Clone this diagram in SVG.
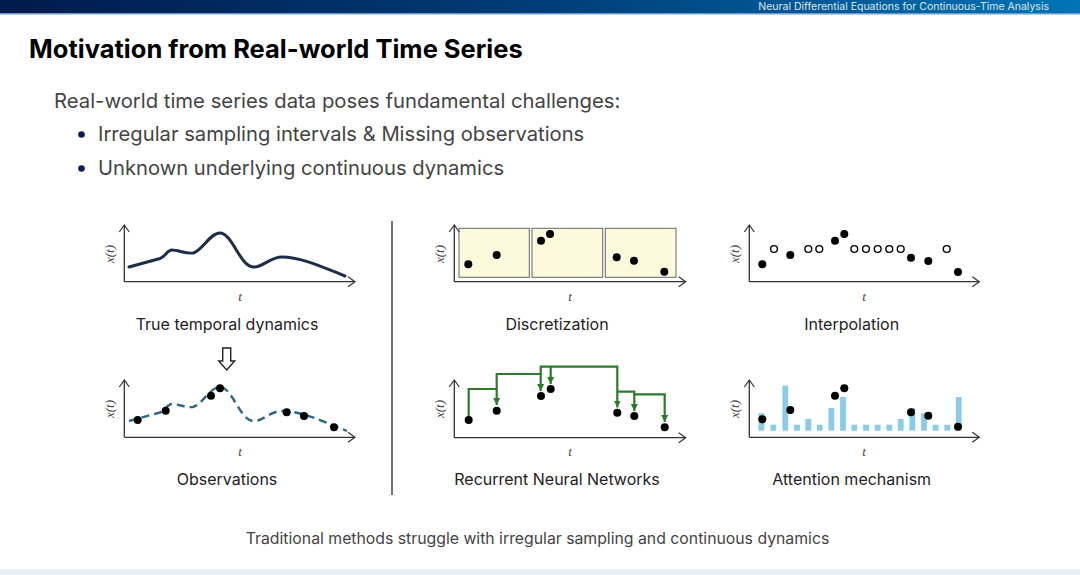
<svg xmlns="http://www.w3.org/2000/svg" width="1080" height="575" viewBox="0 0 1080 575">
<defs>
<linearGradient id="hdr" x1="0" y1="0" x2="1" y2="0">
<stop offset="0" stop-color="#001a4c"/>
<stop offset="0.5" stop-color="#003d78"/>
<stop offset="1" stop-color="#0074b6"/>
</linearGradient>
<marker id="ax" markerUnits="userSpaceOnUse" markerWidth="10" markerHeight="12" refX="8" refY="6" orient="auto">
<path d="M1,1 L8,6 L1,11" fill="none" stroke="#333" stroke-width="1.2"/>
</marker>
<marker id="ga" markerUnits="userSpaceOnUse" markerWidth="8" markerHeight="8" refX="7" refY="4" orient="auto">
<path d="M0,0.5 L7,4 L0,7.5 z" fill="#2d7a2d"/>
</marker>
</defs>
<style>
text{font-family:Inter,"Liberation Sans",sans-serif}
.axis{stroke:#333;stroke-width:1.3;fill:none}
.lab{font-size:16px;fill:#222;text-anchor:middle}
.xt{font-family:"Liberation Serif",serif;font-style:italic;font-size:13px;fill:#444;text-anchor:middle}
.dot{fill:#000}
.open{fill:#fff;stroke:#000;stroke-width:1.4}
.bar{fill:#89ccea}
.box{fill:#fcf9dc;stroke:#666;stroke-width:1}
.g{stroke:#2d7a2d;stroke-width:2.2;fill:none}
</style>

<g id="header">
<rect x="0" y="0" width="1080" height="14" fill="url(#hdr)"/>
<rect x="0" y="13" width="1080" height="1.5" fill="#6d9dc9"/>
<text x="1049" y="10" font-size="10.5" fill="#dfe8f2" text-anchor="end">Neural Differential Equations for Continuous-Time Analysis</text>
</g>
<rect id="footer" x="0" y="569" width="1080" height="6" fill="#e3eef6"/>

<g id="title">
<text x="29" y="58" font-size="25.5" font-weight="700" fill="#000">Motivation from Real-world Time Series</text>
<text x="54" y="108" font-size="20.3" fill="#444">Real-world time series data poses fundamental challenges:</text>
<circle cx="81.5" cy="134.5" r="3.3" fill="#0b1f5c"/>
<text x="98" y="141" font-size="20.2" fill="#444">Irregular sampling intervals &amp; Missing observations</text>
<circle cx="81.5" cy="168.5" r="3.3" fill="#0b1f5c"/>
<text x="98" y="175" font-size="20.2" fill="#444">Unknown underlying continuous dynamics</text>
</g>

<line id="divider" x1="392" y1="221" x2="392" y2="495" stroke="#444" stroke-width="1.5"/>

<g id="true-dynamics">
<path class="axis" d="M124.3,281.7 V225" marker-end="url(#ax)"/>
<path class="axis" d="M124.3,281.7 H355" marker-end="url(#ax)"/>
<text class="xt" transform="translate(114,254) rotate(-90)">x(t)</text>
<text class="xt" x="240" y="301">t</text>
<path d="M129,267 L160,258.5 C165,257 167,250 172,250 C178,250 186,254 193,253 C202,251 210,233 220,233 C232,233 240,266 253,267 C262,268 270,257 282,257 C300,257 320,266 345,276" fill="none" stroke="#1b2d48" stroke-width="3" stroke-linecap="round"/>
<text class="lab" x="227" y="330">True temporal dynamics</text>
</g>

<g id="arrow-down">
<path d="M222.7,348 H230.7 V361 H234.7 L226.7,370 L218.7,361 H222.7 Z" fill="#fff" stroke="#222" stroke-width="1.4"/>
</g>

<g id="observations">
<path class="axis" d="M124.3,437.3 V380" marker-end="url(#ax)"/>
<path class="axis" d="M124.3,437.3 H355" marker-end="url(#ax)"/>
<text class="xt" transform="translate(114,409) rotate(-90)">x(t)</text>
<text class="xt" x="240" y="456">t</text>
<path d="M129,421 L160,412.5 C165,411 167,404 172,404 C178,404 186,408 193,407 C202,405 210,387 220,387 C232,387 240,420 253,421 C262,422 270,411 282,411 C300,411 320,420 347,431" fill="none" stroke="#2a6888" stroke-width="2.4" stroke-dasharray="8,5"/>
<circle class="dot" cx="137.7" cy="420" r="4"/>
<circle class="dot" cx="165.7" cy="410.7" r="4"/>
<circle class="dot" cx="211" cy="395.7" r="4"/>
<circle class="dot" cx="220" cy="388.3" r="4"/>
<circle class="dot" cx="286.7" cy="412.3" r="4"/>
<circle class="dot" cx="304" cy="416" r="4"/>
<circle class="dot" cx="334" cy="427.3" r="4"/>
<text class="lab" x="227" y="485">Observations</text>
</g>

<g id="discretization">
<rect class="box" x="459" y="228.3" width="70.3" height="49"/>
<rect class="box" x="532" y="228.3" width="70.7" height="49"/>
<rect class="box" x="605.3" y="228.3" width="70.7" height="49"/>
<path class="axis" d="M454.3,281.7 V225" marker-end="url(#ax)"/>
<path class="axis" d="M454.3,281.7 H685.7" marker-end="url(#ax)"/>
<text class="xt" transform="translate(444,254) rotate(-90)">x(t)</text>
<text class="xt" x="570" y="301">t</text>
<circle class="dot" cx="468.3" cy="264.3" r="4"/>
<circle class="dot" cx="496.7" cy="255" r="4"/>
<circle class="dot" cx="541" cy="240.7" r="4"/>
<circle class="dot" cx="550" cy="234" r="4"/>
<circle class="dot" cx="616.7" cy="257.3" r="4"/>
<circle class="dot" cx="634" cy="260.7" r="4"/>
<circle class="dot" cx="664.3" cy="271.7" r="4"/>
<text class="lab" x="557" y="330">Discretization</text>
</g>

<g id="rnn">
<path class="axis" d="M454.3,437.7 V380" marker-end="url(#ax)"/>
<path class="axis" d="M454.3,437.7 H685.7" marker-end="url(#ax)"/>
<text class="xt" transform="translate(444,409) rotate(-90)">x(t)</text>
<text class="xt" x="570" y="456">t</text>
<g id="rnn-connectors">
<path class="g" d="M468.7,420 V389 H496.7 V405" marker-end="url(#ga)"/>
<path class="g" d="M496.7,389 V374 H540.7 V391" marker-end="url(#ga)"/>
<path class="g" d="M540.7,374 V366.7 H617.3 V407.5" marker-end="url(#ga)"/>
<path class="g" d="M550.7,366.7 V384" marker-end="url(#ga)"/>
<path class="g" d="M617.3,391.7 H634.3 V411" marker-end="url(#ga)"/>
<path class="g" d="M634.3,394.3 H664.7 V422" marker-end="url(#ga)"/>
</g>
<circle class="dot" cx="468.7" cy="420" r="4"/>
<circle class="dot" cx="496.7" cy="410.7" r="4"/>
<circle class="dot" cx="541" cy="396" r="4"/>
<circle class="dot" cx="550.7" cy="389" r="4"/>
<circle class="dot" cx="617.3" cy="412.7" r="4"/>
<circle class="dot" cx="634.3" cy="416" r="4"/>
<circle class="dot" cx="664.7" cy="427.3" r="4"/>
<text class="lab" x="557" y="485">Recurrent Neural Networks</text>
</g>

<g id="interpolation">
<path class="axis" d="M749.3,281.7 V225" marker-end="url(#ax)"/>
<path class="axis" d="M749.3,281.7 H979.3" marker-end="url(#ax)"/>
<text class="xt" transform="translate(739,254) rotate(-90)">x(t)</text>
<text class="xt" x="864" y="301">t</text>
<circle class="dot" cx="762.3" cy="264.3" r="4"/>
<circle class="dot" cx="790.3" cy="255" r="4"/>
<circle class="dot" cx="835" cy="240.7" r="4"/>
<circle class="dot" cx="844.3" cy="234" r="4"/>
<circle class="dot" cx="911" cy="257.7" r="4"/>
<circle class="dot" cx="928.3" cy="261" r="4"/>
<circle class="dot" cx="958" cy="272" r="4"/>
<circle class="open" cx="774" cy="249" r="3.4"/>
<circle class="open" cx="808.3" cy="249" r="3.4"/>
<circle class="open" cx="819.3" cy="249" r="3.4"/>
<circle class="open" cx="854.3" cy="249" r="3.4"/>
<circle class="open" cx="866" cy="249" r="3.4"/>
<circle class="open" cx="877.7" cy="249" r="3.4"/>
<circle class="open" cx="889.3" cy="249" r="3.4"/>
<circle class="open" cx="900.7" cy="249" r="3.4"/>
<circle class="open" cx="946.7" cy="249" r="3.4"/>
<text class="lab" x="851.7" y="330">Interpolation</text>
</g>

<g id="attention">
<rect class="bar" x="758.5" y="413.3" width="5.8" height="17.4"/>
<rect class="bar" x="770.4" y="424.7" width="5.8" height="6"/>
<rect class="bar" x="782.4" y="385.7" width="5.8" height="45"/>
<rect class="bar" x="794.1" y="424.7" width="5.8" height="6"/>
<rect class="bar" x="805.4" y="419" width="5.8" height="11.7"/>
<rect class="bar" x="816.8" y="424.7" width="5.8" height="6"/>
<rect class="bar" x="828.4" y="408" width="5.8" height="22.7"/>
<rect class="bar" x="840.1" y="397" width="5.8" height="33.7"/>
<rect class="bar" x="851.4" y="424.7" width="5.8" height="6"/>
<rect class="bar" x="863.1" y="424.7" width="5.8" height="6"/>
<rect class="bar" x="874.8" y="424.7" width="5.8" height="6"/>
<rect class="bar" x="886.4" y="424.7" width="5.8" height="6"/>
<rect class="bar" x="897.8" y="419" width="5.8" height="11.7"/>
<rect class="bar" x="909.4" y="408" width="5.8" height="22.7"/>
<rect class="bar" x="921.1" y="413.3" width="5.8" height="17.4"/>
<rect class="bar" x="932.8" y="424.7" width="5.8" height="6"/>
<rect class="bar" x="944.4" y="424.7" width="5.8" height="6"/>
<rect class="bar" x="955.8" y="397" width="5.8" height="33.7"/>
<path class="axis" d="M749.3,437.3 V380" marker-end="url(#ax)"/>
<path class="axis" d="M749.3,437.3 H979.3" marker-end="url(#ax)"/>
<text class="xt" transform="translate(739,409) rotate(-90)">x(t)</text>
<text class="xt" x="864" y="456">t</text>
<circle class="dot" cx="762.3" cy="419.3" r="4"/>
<circle class="dot" cx="790.3" cy="410" r="4"/>
<circle class="dot" cx="835" cy="395.7" r="4"/>
<circle class="dot" cx="844.3" cy="388.3" r="4"/>
<circle class="dot" cx="911" cy="412.3" r="4"/>
<circle class="dot" cx="928.3" cy="415.7" r="4"/>
<circle class="dot" cx="958" cy="426.7" r="4"/>
<text class="lab" x="851.7" y="485">Attention mechanism</text>
</g>

<text id="caption" x="537.5" y="544" font-size="15.8" fill="#444" text-anchor="middle">Traditional methods struggle with irregular sampling and continuous dynamics</text>
</svg>
